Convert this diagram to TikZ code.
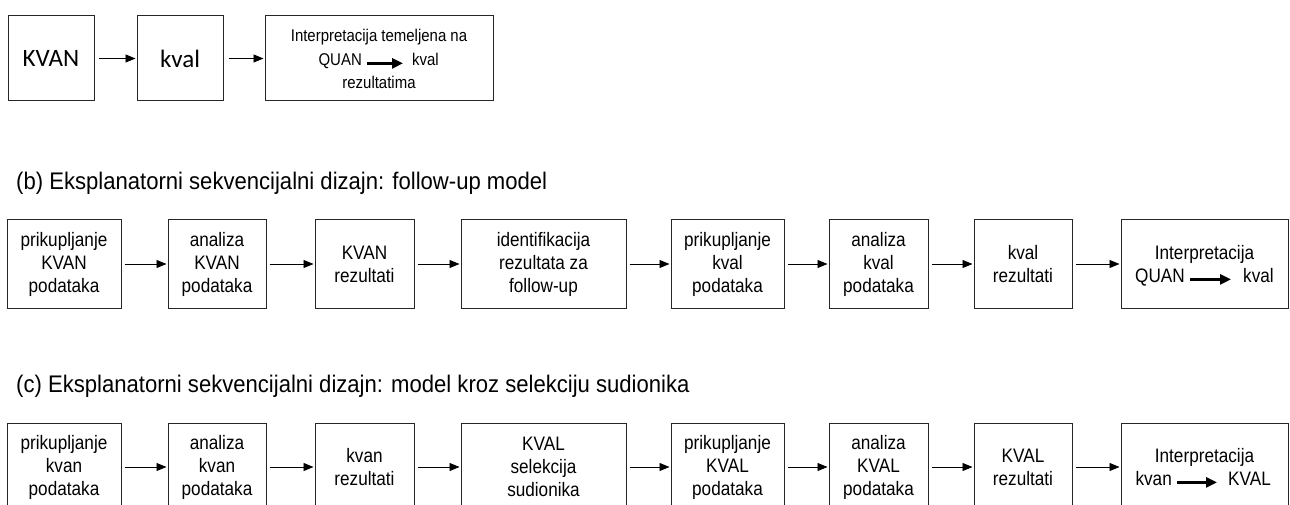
\documentclass[tikz,border=0pt]{standalone}
\usepackage{fontspec}
\setmainfont{Liberation Sans}
\newfontfamily\calfont{Carlito}
\newfontfamily\narrowfont[FakeStretch=0.88]{Liberation Sans}
\newfontfamily\titlefont[FakeStretch=0.92]{Liberation Sans}
\usetikzlibrary{arrows.meta}
\tikzset{
  box/.style={draw=black!85, line width=1pt, inner sep=0pt, fill=none},
  rowbox/.style={box, minimum height=88pt},
  topbox/.style={box, minimum height=85pt},
  boxtext/.style={align=center, font=\narrowfont\fontsize{19.5}{23}\selectfont},
  bigtext/.style={font=\calfont\fontsize{25}{30}\selectfont},
  smalltext/.style={inner sep=0pt, font=\narrowfont\fontsize{17}{23}\selectfont},
  linetext/.style={inner sep=0pt, font=\narrowfont\fontsize{19.5}{23}\selectfont},
  flow/.style={-{Triangle[length=10pt,width=8pt]}, line width=0.9pt, draw=black, shorten <=3pt, shorten >=1pt},
  thickarr/.style={-{Triangle[length=11pt,width=10pt]}, line width=2.6pt, draw=black},
  title/.style={anchor=base west, inner sep=0pt, font=\titlefont\fontsize{24}{28}\selectfont},
}
\begin{document}
\begin{tikzpicture}[x=1pt,y=-1pt]
\clip (0,0) rectangle (1290,505);
\fill[white] (0,0) rectangle (1290,505);

% ---- row (a) ----
\node[topbox, bigtext, minimum width=86pt] (a1) at (51,58.5) {KVAN};
\node[topbox, bigtext, minimum width=86pt] (a2) at (180,58.5) {kval};
\node[topbox, minimum width=228pt] (a3) at (379,58.5) {};
\node[smalltext, anchor=base] (a3t) at (379,42) {Interpretacija temeljena na};
\node[smalltext, anchor=base east] (a3q) at (362,66) {QUAN};
\node[smalltext, anchor=base west] (a3k) at (412,66) {kval};
\node[smalltext, anchor=base] (a3r) at (379,89) {rezultatima};
\draw[thickarr, shorten <=5pt, shorten >=9pt] (a3q.mid east) -- (a3k.mid west);
\draw[flow, shorten <=4pt] (a1) -- (a2);
\draw[flow, shorten <=5pt] (a2) -- (a3);

% ---- row (b) ----
\node[title] (tb) at (16,189.5) {(b) Eksplanatorni sekvencijalni dizajn: follow-up model};
\node[rowbox, boxtext, minimum width=114pt] (b1) at (64,264) {prikupljanje\\KVAN\\podataka};
\node[rowbox, boxtext, minimum width=98pt] (b2) at (217,264) {analiza\\KVAN\\podataka};
\node[rowbox, boxtext, minimum width=99pt] (b3) at (364.5,264) {KVAN\\rezultati};
\node[rowbox, boxtext, minimum width=165pt] (b4) at (543.5,264) {identifikacija\\rezultata za\\follow-up};
\node[rowbox, boxtext, minimum width=113pt] (b5) at (727.5,264) {prikupljanje\\kval\\podataka};
\node[rowbox, boxtext, minimum width=99pt] (b6) at (878.5,264) {analiza\\kval\\podataka};
\node[rowbox, boxtext, minimum width=98pt] (b7) at (1023,264) {kval\\rezultati};
\node[rowbox, minimum width=167pt] (b8) at (1204.5,264) {};
\node[linetext, anchor=base] (b8t) at (1204.5,259) {Interpretacija};
\node[linetext, anchor=base east] (b8q) at (1185,282) {QUAN};
\node[linetext, anchor=base west] (b8k) at (1243,282) {kval};
\draw[thickarr, shorten <=5pt, shorten >=12pt] (b8q.mid east) -- (b8k.mid west);
\foreach \p/\q in {b1/b2,b2/b3,b3/b4,b4/b5,b5/b6,b6/b7,b7/b8}
  \draw[flow] (\p) -- (\q);

% ---- row (c) ----
\node[title] (tc) at (16,392) {(c) Eksplanatorni sekvencijalni dizajn: model kroz selekciju sudionika};
\node[rowbox, boxtext, minimum width=114pt] (c1) at (64,467) {prikupljanje\\kvan\\podataka};
\node[rowbox, boxtext, minimum width=98pt] (c2) at (217,467) {analiza\\kvan\\podataka};
\node[rowbox, boxtext, minimum width=99pt] (c3) at (364.5,467) {kvan\\rezultati};
\node[rowbox, boxtext, minimum width=165pt] (c4) at (543.5,467) {KVAL\\selekcija\\sudionika};
\node[rowbox, boxtext, minimum width=113pt] (c5) at (727.5,467) {prikupljanje\\KVAL\\podataka};
\node[rowbox, boxtext, minimum width=99pt] (c6) at (878.5,467) {analiza\\KVAL\\podataka};
\node[rowbox, boxtext, minimum width=98pt] (c7) at (1023,467) {KVAL\\rezultati};
\node[rowbox, minimum width=167pt] (c8) at (1204.5,467) {};
\node[linetext, anchor=base] (c8t) at (1204.5,462) {Interpretacija};
\node[linetext, anchor=base east] (c8q) at (1172,485) {kvan};
\node[linetext, anchor=base west] (c8k) at (1228,485) {KVAL};
\draw[thickarr, shorten <=5pt, shorten >=11pt] (c8q.mid east) -- (c8k.mid west);
\foreach \p/\q in {c1/c2,c2/c3,c3/c4,c4/c5,c5/c6,c6/c7,c7/c8}
  \draw[flow] (\p) -- (\q);
\end{tikzpicture}
\end{document}
